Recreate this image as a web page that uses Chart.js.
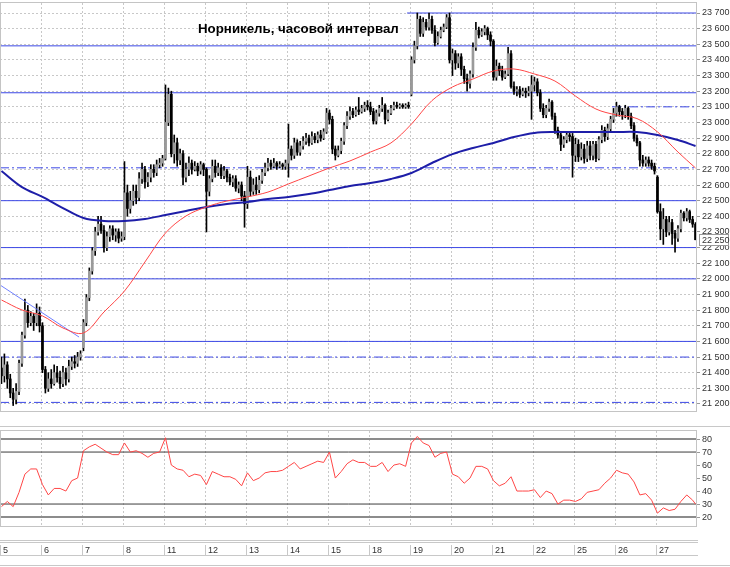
<!DOCTYPE html>
<html>
<head>
<meta charset="utf-8">
<script src="https://cdn.jsdelivr.net/npm/chart.js@4.4.1/dist/chart.umd.min.js"></script>
<style>
  body { margin: 0; background: #fff; width: 730px; height: 567px; overflow: hidden; position: relative; }
  #priceWrap { position: absolute; left: 0; top: 0; width: 730px; height: 416px; }
  #rsiWrap { position: absolute; left: 0; top: 420px; width: 730px; height: 147px; }
  #title { position: absolute; left: 198px; top: 21px; white-space: nowrap; font: bold 13.3px "Liberation Sans", Arial, sans-serif; color: #000; line-height: 15px; }
</style>
</head>
<body>
<div id="priceWrap"><canvas id="price"></canvas></div>
<div id="rsiWrap"><canvas id="rsi"></canvas></div>
<div id="title">Норникель, часовой интервал</div>
<script>
const days = ["5", "6", "7", "8", "11", "12", "13", "14", "15", "18", "19", "20", "21", "22", "25", "26", "27"];
const barsPerDay = 14;

// hourly candles, one row per trading day
const opens = [
  21430,21380,21450,21360,21270,21230,21280,21460,21640,21800,21720,21760,21720,21780,
  21700,21420,21300,21360,21330,21400,21370,21330,21400,21360,21440,21470,21460,21500,
  21560,21720,21880,22050,22180,22300,22350,22310,22200,22270,22320,22280,22300,22260,
  22270,22550,22450,22500,22560,22520,22640,22700,22620,22650,22700,22680,22730,22740,
  22770,23000,23180,22800,22870,22760,22800,22650,22700,22740,22700,22720,22690,22730,
  22700,22560,22640,22720,22680,22710,22660,22690,22650,22620,22640,22580,22600,22530,
  22480,22650,22560,22600,22570,22630,22680,22710,22740,22720,22740,22720,22730,22720,
  22740,22830,22790,22870,22810,22850,22880,22900,22870,22910,22890,22920,22900,22940,
  23060,23020,22830,22790,22820,22880,22980,23040,23070,23050,23080,23070,23090,23110,
  23100,23070,23010,23060,23090,23110,23020,23060,23090,23110,23100,23110,23100,23110,
  23180,23400,23490,23660,23570,23640,23610,23660,23590,23510,23550,23590,23610,23670,
  23400,23440,23380,23420,23340,23280,23250,23310,23480,23590,23560,23580,23600,23560,
  23520,23290,23360,23330,23290,23310,23440,23230,23200,23210,23180,23200,23190,23200,
  23240,23260,23190,23090,23050,23090,23130,23040,22950,22920,22860,22890,22920,22910,
  22790,22860,22780,22830,22770,22850,22790,22860,22770,22890,22950,22910,22960,23020,
  23060,23100,23070,23050,23090,23040,22980,22900,22870,22760,22740,22760,22740,22720,
  22650,22430,22320,22380,22300,22360,22290,22260,22320,22420,22390,22430,22380,22350
];
const highs = [
  21500,21520,21470,21390,21300,21330,21480,21660,21870,21830,21790,21780,21840,21820,
  21720,21440,21400,21420,21450,21440,21410,21440,21430,21480,21500,21510,21530,21540,
  21740,21900,22070,22200,22330,22400,22400,22340,22300,22340,22340,22320,22320,22300,
  22750,22600,22560,22600,22600,22680,22740,22720,22680,22730,22730,22760,22770,22790,
  23240,23220,23200,22920,22900,22830,22820,22740,22780,22760,22750,22740,22750,22740,
  22710,22660,22760,22760,22740,22730,22720,22700,22670,22660,22660,22620,22620,22560,
  22720,22690,22640,22650,22660,22700,22740,22770,22760,22770,22750,22750,22740,22760,
  22990,22850,22900,22890,22880,22910,22930,22920,22940,22930,22940,22950,22960,23090,
  23080,23040,22850,22850,22900,23000,23070,23100,23090,23100,23160,23110,23130,23140,
  23130,23090,23080,23110,23160,23120,23080,23110,23130,23130,23120,23120,23120,23130,
  23420,23520,23700,23680,23670,23660,23700,23680,23620,23580,23610,23630,23690,23700,
  23470,23460,23440,23440,23360,23310,23330,23510,23640,23610,23600,23620,23610,23580,
  23530,23400,23380,23360,23330,23480,23460,23260,23230,23230,23220,23220,23230,23300,
  23290,23280,23210,23120,23110,23150,23140,23060,22970,22940,22910,22940,22940,22930,
  22900,22890,22870,22860,22880,22880,22880,22880,22910,22980,22970,22990,23040,23090,
  23130,23110,23090,23110,23100,23060,23000,22920,22880,22790,22780,22780,22760,22740,
  22660,22480,22450,22400,22400,22380,22310,22340,22440,22430,22450,22440,22400,22360
];
const lows = [
  21330,21340,21300,21240,21190,21200,21260,21440,21620,21690,21700,21670,21700,21660,
  21400,21270,21280,21300,21320,21340,21300,21310,21320,21340,21420,21430,21440,21480,
  21540,21700,21860,22030,22150,22280,22290,22170,22180,22240,22250,22240,22230,22240,
  22250,22400,22420,22470,22480,22500,22610,22580,22590,22620,22650,22660,22710,22720,
  22760,22980,22780,22740,22720,22730,22600,22620,22660,22670,22690,22660,22670,22660,
  22300,22530,22620,22650,22660,22640,22640,22620,22600,22590,22560,22550,22500,22330,
  22450,22530,22540,22540,22550,22610,22660,22690,22700,22710,22700,22710,22700,22700,
  22650,22760,22770,22790,22790,22830,22860,22850,22860,22870,22870,22880,22890,22930,
  22990,22800,22760,22780,22800,22860,22960,23020,23030,23040,23050,23060,23070,23080,
  23050,22990,22990,23040,23070,22990,23010,23050,23080,23090,23090,23090,23090,23090,
  23170,23380,23470,23550,23550,23590,23590,23570,23490,23500,23540,23580,23600,23380,
  23300,23340,23350,23300,23250,23200,23220,23290,23460,23540,23550,23560,23530,23490,
  23270,23270,23300,23270,23280,23300,23220,23180,23170,23160,23170,23160,23170,23020,
  23200,23170,23070,23030,23030,23070,23020,22930,22900,22820,22840,22870,22880,22650,
  22750,22750,22760,22740,22750,22760,22760,22750,22760,22870,22880,22890,22940,23000,
  23040,23040,23020,23030,23020,22960,22880,22850,22720,22720,22720,22720,22700,22670,
  22420,22250,22220,22270,22280,22220,22170,22240,22300,22370,22370,22360,22330,22250
];
const closes = [
  21380,21450,21360,21270,21230,21280,21460,21640,21800,21720,21760,21720,21780,21700,
  21420,21300,21360,21330,21400,21370,21330,21400,21360,21440,21470,21460,21500,21520,
  21720,21880,22050,22180,22300,22350,22310,22200,22270,22320,22280,22300,22260,22270,
  22550,22450,22500,22560,22520,22640,22700,22620,22650,22700,22680,22730,22740,22770,
  23000,23180,22800,22870,22760,22800,22650,22700,22740,22700,22720,22690,22730,22700,
  22560,22640,22720,22680,22710,22660,22690,22650,22620,22640,22580,22600,22530,22480,
  22650,22560,22600,22570,22630,22680,22710,22740,22720,22740,22720,22730,22720,22740,
  22830,22790,22870,22810,22850,22880,22900,22870,22910,22890,22920,22900,22940,23060,
  23020,22830,22790,22820,22880,22980,23040,23070,23050,23080,23070,23090,23110,23100,
  23070,23010,23060,23090,23110,23020,23060,23090,23110,23100,23110,23100,23110,23100,
  23400,23490,23660,23570,23640,23610,23660,23590,23510,23550,23590,23610,23670,23400,
  23440,23380,23420,23340,23280,23250,23310,23480,23590,23560,23580,23600,23560,23520,
  23290,23360,23330,23290,23310,23440,23230,23200,23210,23180,23200,23190,23200,23240,
  23260,23190,23090,23050,23090,23130,23040,22950,22920,22860,22890,22920,22910,22790,
  22860,22780,22830,22770,22850,22790,22860,22770,22890,22950,22910,22960,23020,23060,
  23100,23070,23050,23090,23040,22980,22900,22870,22760,22740,22760,22740,22720,22690,
  22430,22320,22380,22300,22360,22290,22260,22320,22420,22390,22430,22380,22350,22250
];

// moving averages read every 7 bars (last point = last bar)
const maStep = 7;
const fastMa = [21865,21801,21763,21686,21654,21788,21922,22108,22293,22402,22460,22498,22524,22555,22607,22658,22709,22754,22811,22869,22990,23140,23227,23278,23329,23342,23310,23265,23169,23086,23048,23025,22940,22811,22709];
const slowMa = [22690,22587,22524,22453,22389,22370,22370,22383,22408,22434,22460,22479,22492,22511,22524,22543,22568,22594,22613,22639,22677,22741,22798,22837,22869,22907,22933,22939,22939,22939,22939,22939,22920,22888,22850];

// thin trend line, bar index -> price
const trendBars = [-0.5, 26.5];
const trendPrices = [21961, 21628];

// horizontal levels, with the bar they start from
const solidLevels = [23700, 23490, 23190, 22500, 22200, 22000, 21600];
const solidFrom = [138.5, -0.5, -0.5, -0.5, -0.5, -0.5, -0.5];
const dashLevels = [23100, 22710, 21500, 21210];
const dashFrom = [208.5, -0.5, -0.5, -0.5];

const priceTicks = [21200,21300,21400,21500,21600,21700,21800,21900,22000,22100,22200,22300,22400,22500,22600,22700,22800,22900,23000,23100,23200,23300,23400,23500,23600,23700];

// RSI read every 2 bars (last point = last bar)
const rsiStep = 2;
const rsiValues = [
  28,32,28,39,53,57,57,45,37,42,42,40,48,50,
  71,74,76,73,70,68,68,77,70,71,69,66,69,70,
  81,60,57,56,51,53,52,45,55,53,51,51,49,44,
  54,48,50,54,55,55,56,59,62,57,59,61,63,62,
  70,50,55,61,64,62,62,59,59,62,55,60,61,59,
  77,82,77,75,66,69,70,53,51,46,50,59,59,57,
  48,44,46,51,40,40,40,41,35,40,38,30,33,33,
  32,34,39,40,41,46,50,56,54,53,47,37,38,33,
  23,27,25,26,32,37,33,30
];
const rsiLevels = [80, 70, 30, 20];
const rsiTicks = [20, 30, 40, 50, 60, 70, 80];

const lastBar = days.length * barsPerDay - 1;
const dayStarts = days.map((d, i) => i * barsPerDay - 0.5);
const fmt = (v) => String(v).replace(/\B(?=(\d{3})+(?!\d))/g, " ");
const tickFont = { family: "Liberation Sans", size: 9 };

const levelBlue = "#3c48e6";
const dashDot = [9, 3, 2, 3];

const zeroPad = (s) => {
  s.paddingLeft = 0;
  s.paddingRight = 0;
  s.paddingTop = 0;
  s.paddingBottom = 0;
};

const dayAxis = () => ({
  type: "linear",
  min: -0.5,
  max: lastBar + 0.5,
  offset: false,
  afterBuildTicks: (s) => {
    s.ticks = dayStarts.slice(1).map((v) => ({ value: v }));
  },
  ticks: { display: false },
  grid: { color: "#c8c8c8", drawTicks: false, offset: false },
  border: { display: false, dash: [2, 2] },
  afterFit: zeroPad,
});

const framePlugin = {
  id: "frame",
  afterDraw(chart) {
    const { ctx, chartArea: a } = chart;
    ctx.save();
    ctx.strokeStyle = "#c4c4c4";
    ctx.lineWidth = 1;
    ctx.strokeRect(Math.round(a.left) + 0.5, Math.round(a.top) - 0.5, Math.round(a.right - a.left) - 1, Math.round(a.bottom - a.top) + 1);
    ctx.restore();
  },
};

const lastPricePlugin = {
  id: "lastPrice",
  afterDraw(chart) {
    const { ctx, chartArea } = chart;
    const last = closes[closes.length - 1];
    const y = Math.round(chart.scales.y.getPixelForValue(last));
    const x = Math.round(chartArea.right) + 2;
    ctx.save();
    ctx.fillStyle = "#fff";
    ctx.fillRect(x, y - 6, 30, 12);
    ctx.strokeStyle = "#9a9a9a";
    ctx.strokeRect(x + 0.5, y - 5.5, 29, 11);
    ctx.fillStyle = "#333";
    ctx.font = '9px "Liberation Sans"';
    ctx.textBaseline = "middle";
    ctx.fillText(fmt(last), x + 3, y + 0.5);
    ctx.restore();
  },
};

const dateStripPlugin = {
  id: "dateStrip",
  afterDraw(chart) {
    const { ctx } = chart;
    const xs = chart.scales.x;
    const right = Math.round(chart.chartArea.right) + 1;
    ctx.save();
    ctx.strokeStyle = "#c8c8c8";
    ctx.lineWidth = 1;
    ctx.beginPath();
    ctx.moveTo(0, 6.5);
    ctx.lineTo(730, 6.5);
    [120.5, 122.5, 135.5].forEach((y) => {
      ctx.moveTo(0, y);
      ctx.lineTo(right, y);
    });
    ctx.moveTo(0, 145.5);
    ctx.lineTo(730, 145.5);
    dayStarts.forEach((v) => {
      const px = Math.round(xs.getPixelForValue(v)) + 0.5;
      ctx.moveTo(px, 125);
      ctx.lineTo(px, 135);
    });
    ctx.stroke();
    ctx.fillStyle = "#333";
    ctx.font = '9px "Liberation Sans"';
    ctx.textBaseline = "alphabetic";
    days.forEach((d, i) => {
      const px = Math.round(xs.getPixelForValue(dayStarts[i]));
      ctx.fillText(d, px + 3, 133);
    });
    ctx.restore();
  },
};

const levelLine = (price, from) => [
  { x: from, y: price },
  { x: lastBar + 0.5, y: price },
];

const levelSets = [
  ...solidLevels.map((p, i) => ({
    type: "line",
    data: levelLine(p, solidFrom[i]),
    borderColor: levelBlue,
    borderWidth: 1,
    pointRadius: 0,
    order: 5,
  })),
  ...dashLevels.map((p, i) => ({
    type: "line",
    data: levelLine(p, dashFrom[i]),
    borderColor: levelBlue,
    borderWidth: 1,
    borderDash: dashDot,
    pointRadius: 0,
    order: 5,
  })),
];

const maPoints = (arr) => arr.map((v, i) => ({ x: Math.min(i * maStep, lastBar), y: v }));

new Chart(document.getElementById("price"), {
  type: "bar",
  data: {
    datasets: [
      {
        type: "line",
        data: maPoints(fastMa),
        borderColor: "rgb(255,70,70)",
        borderWidth: 1,
        pointRadius: 0,
        tension: 0.35,
        order: 1,
      },
      {
        type: "line",
        data: maPoints(slowMa),
        borderColor: "#1e1ea8",
        borderWidth: 2,
        pointRadius: 0,
        tension: 0.35,
        order: 1,
      },
      {
        type: "line",
        data: trendBars.map((b, i) => ({ x: b, y: trendPrices[i] })),
        borderColor: "#7080ff",
        borderWidth: 1,
        pointRadius: 0,
        order: 2,
      },
      {
        data: opens.map((o, i) => ({ x: i, y: [o, closes[i]] })),
        backgroundColor: opens.map((o, i) => (closes[i] >= o ? "#9a9a9a" : "#000000")),
        barThickness: 2,
        minBarLength: 1,
        grouped: false,
        borderWidth: 0,
        order: 3,
      },
      {
        data: highs.map((h, i) => ({ x: i, y: [lows[i], h] })),
        backgroundColor: "#000000",
        barThickness: 1,
        grouped: false,
        borderWidth: 0,
        order: 4,
      },
      ...levelSets,
    ],
  },
  options: {
    responsive: true,
    maintainAspectRatio: false,
    animation: false,
    layout: { padding: { top: 3, bottom: 5, left: 0, right: 0 } },
    plugins: { legend: { display: false }, tooltip: { enabled: false } },
    scales: {
      x: dayAxis(),
      y: {
        position: "right",
        min: 21155,
        max: 23764,
        afterBuildTicks: (s) => {
          s.ticks = priceTicks.map((v) => ({ value: v }));
        },
        ticks: { autoSkip: false, padding: 2, color: "#333", font: tickFont, callback: (v) => fmt(v) },
        grid: { color: "#c8c8c8", drawTicks: true, tickLength: 3, tickColor: "#9a9a9a" },
        border: { display: false, dash: [2, 2] },
        afterFit: (s) => {
          s.width = 33;
          zeroPad(s);
        },
      },
    },
  },
  plugins: [framePlugin, lastPricePlugin],
});

new Chart(document.getElementById("rsi"), {
  type: "line",
  data: {
    datasets: [
      {
        data: rsiValues.map((v, i) => ({ x: Math.min(i * rsiStep, lastBar), y: v })),
        borderColor: "rgb(255,70,70)",
        borderWidth: 1,
        pointRadius: 0,
        tension: 0,
        order: 1,
      },
      ...rsiLevels.map((lv) => ({
        data: levelLine(lv, -0.5),
        borderColor: lv === 80 || lv === 20 ? "#8c8c8c" : "#3c3c3c",
        borderWidth: lv === 80 || lv === 20 ? 2 : 1,
        pointRadius: 0,
        order: 2,
      })),
    ],
  },
  options: {
    responsive: true,
    maintainAspectRatio: false,
    animation: false,
    layout: { padding: { top: 11, bottom: 41, left: 0, right: 0 } },
    plugins: { legend: { display: false }, tooltip: { enabled: false } },
    scales: {
      x: dayAxis(),
      y: {
        position: "right",
        min: 13.1,
        max: 86.2,
        afterBuildTicks: (s) => {
          s.ticks = rsiTicks.map((v) => ({ value: v }));
        },
        ticks: { autoSkip: false, padding: 2, color: "#333", font: tickFont },
        grid: { drawOnChartArea: false, drawTicks: true, tickLength: 3, tickColor: "#9a9a9a" },
        border: { display: false },
        afterFit: (s) => {
          s.width = 33;
          zeroPad(s);
        },
      },
    },
  },
  plugins: [framePlugin, dateStripPlugin],
});
</script>
</body>
</html>
